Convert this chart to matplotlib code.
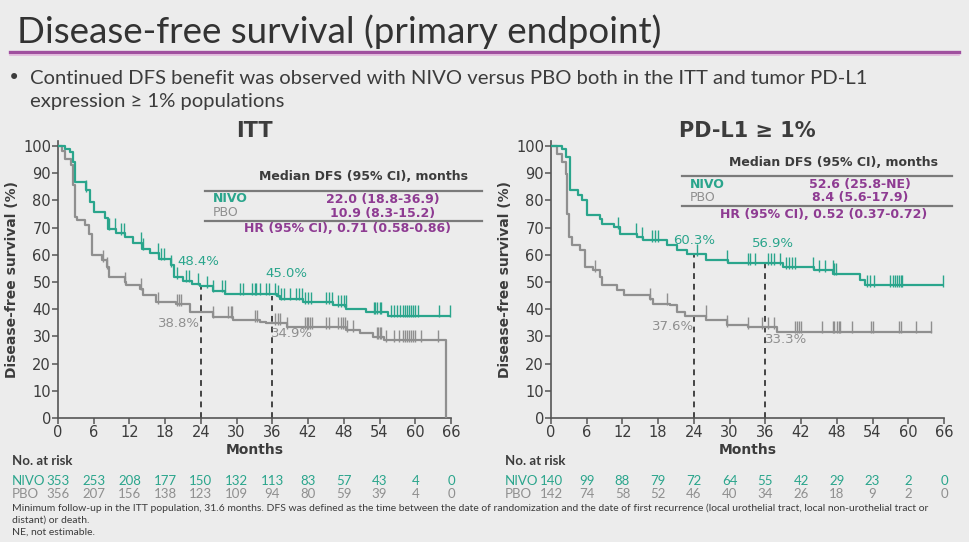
import matplotlib.pyplot as plt
import matplotlib.transforms as mtrans
from matplotlib.lines import Line2D
import numpy as np

# colores
TEAL = "#2aa58c"
GRIS = "#8f8f8f"
MORADO = "#8e3b92"
OSCURO = "#3c3c3c"
FONDO = "#ececec"
NARROW = ["Lato", "DejaVu Sans"]

# ---- datos ITT ----
itt_nivo_t = [0, 1.2, 2.0, 2.6, 2.9, 4.7, 5.4, 6.0, 7.9, 8.4, 9.8, 11.3, 12.6, 14.1, 15.5, 16.9, 18.9, 19.4,
              21.0, 22.5, 23.8, 26.0, 28.1, 36.7, 37.2, 41.1, 46.1, 48.4, 51.7, 55.4]
itt_nivo_s = [100, 99, 97.8, 94.1, 86.8, 83.7, 79.4, 75.7, 73.6, 69.6, 68.0, 66.5, 64.5, 62.3, 60.5, 58.6, 56.1,
              51.8, 50.5, 49.4, 48.4, 46.8, 45.7, 45.0, 43.9, 42.7, 41.5, 40.2, 39.0, 37.6]
itt_nivo_fin = 65.8
itt_nivo_cens = [4.7, 8.6, 9.5, 10.5, 11.0, 13.9, 14.3, 16.8, 17.3, 17.8, 19.0, 20.0, 21.5, 22.0, 23.5, 25.0, 26.0,
                 27.5, 28.0, 30.6, 31.0, 32.5, 33.0, 33.3, 34.0, 35.0, 35.5, 36.5, 37.0, 37.5, 38.0, 39.0, 40.0,
                 40.5, 41.0, 41.5, 42.0, 42.5, 45.0, 45.5, 46.0, 47.0, 47.5, 48.0, 48.3, 53.0, 53.3, 53.6, 54.0,
                 54.3, 56.0, 56.5, 57.0, 57.5, 58.0, 58.3, 58.6, 59.0, 59.3, 59.6, 60.0, 60.5, 64.0, 65.8]

itt_pbo_t = [0, 0.6, 1.2, 2.1, 2.6, 2.8, 3.2, 4.6, 5.2, 5.7, 7.4, 8.2, 8.5, 11.3, 11.5, 13.7, 14.3, 16.5, 19.9,
             22.1, 23.5, 26.0, 29.4, 33.9, 35.0, 38.4, 48.4, 50.7, 52.9, 54.8, 65.2]
itt_pbo_s = [100, 98, 95.3, 92.9, 85.5, 73.9, 72.7, 70.8, 67.8, 59.8, 58.0, 55.5, 51.8, 50.0, 48.8, 47.6, 45.1,
             42.7, 41.8, 39.0, 38.8, 37.2, 36.0, 35.4, 34.9, 33.5, 32.3, 31.1, 29.6, 28.7, 0]
itt_pbo_fin = 65.2
itt_pbo_cens = [7.5, 8.3, 11.3, 14.0, 16.8, 20.0, 20.3, 20.6, 26.0, 28.5, 29.0, 29.3, 33.0, 33.4, 36.5, 37.0,
                37.3, 38.5, 41.5, 41.8, 42.0, 42.3, 42.6, 45.0, 45.5, 47.0, 47.5, 47.8, 48.2, 48.6, 49.5, 53.5,
                53.8, 54.0, 54.3, 55.0, 56.5, 57.3, 58.0, 58.3, 58.6, 59.0, 59.3, 59.6, 60.0, 61.0, 63.8]

# ---- datos PD-L1 >= 1% ----
pd_nivo_t = [0, 1.8, 2.6, 3.2, 4.6, 5.2, 6.0, 8.2, 8.5, 10.5, 11.6, 14.4, 15.5, 19.4, 21.1, 22.8, 26.1, 29.8,
             39.0, 44.1, 47.4, 51.9, 52.7]
pd_nivo_s = [100, 99, 96, 83.7, 81.9, 80, 74.5, 73.3, 71.4, 70.2, 67.8, 66.5, 65.3, 63.5, 61.6, 60.3, 58.0,
             56.9, 55.5, 54.3, 53.1, 50.6, 48.8]
pd_nivo_fin = 65.8
pd_nivo_cens = [11.2, 14.2, 15.2, 17.0, 17.5, 18.0, 24.5, 29.6, 33.0, 33.5, 34.3, 36.5, 37.0, 37.5, 38.5, 39.5,
                40.0, 40.5, 41.0, 44.0, 45.0, 46.0, 47.3, 47.6, 47.9, 53.0, 53.5, 54.3, 57.0, 57.5, 57.8, 58.1,
                58.4, 58.7, 59.0, 65.8]

pd_pbo_t = [0, 1.0, 1.8, 2.5, 2.7, 3.0, 3.5, 4.9, 5.7, 7.1, 8.2, 8.5, 11.0, 12.2, 16.6, 17.2, 20.0, 21.1, 22.5,
            26.1, 29.5, 33.1, 37.9]
pd_pbo_s = [100, 97.2, 94.1, 89.8, 75.1, 66.5, 63.5, 61.6, 55.5, 54.3, 51.8, 48.8, 47.0, 45.1, 43.9, 42.1, 41.5,
            39.0, 37.6, 36.0, 34.1, 33.3, 31.7]
pd_pbo_fin = 63.9
pd_pbo_cens = [7.4, 16.6, 19.5, 26.0, 29.5, 33.1, 35.5, 36.5, 37.5, 41.0, 41.3, 41.6, 42.0, 45.5, 47.3, 47.6,
               48.0, 48.3, 48.6, 50.5, 53.8, 54.0, 58.5, 58.8, 61.3, 63.9]

meses = list(range(0, 67, 6))
itt_riesgo_nivo = [353, 253, 208, 177, 150, 132, 113, 83, 57, 43, 4, 0]
itt_riesgo_pbo = [356, 207, 156, 138, 123, 109, 94, 80, 59, 39, 4, 0]
pd_riesgo_nivo = [140, 99, 88, 79, 72, 64, 55, 42, 29, 23, 2, 0]
pd_riesgo_pbo = [142, 74, 58, 52, 46, 40, 34, 26, 18, 9, 2, 0]

itt_tabla = ["22.0 (18.8-36.9)", "10.9 (8.3-15.2)", "HR (95% CI), 0.71 (0.58-0.86)"]
pd_tabla = ["52.6 (25.8-NE)", "8.4 (5.6-17.9)", "HR (95% CI), 0.52 (0.37-0.72)"]

# (mes, nivo %, pbo %)
itt_hitos = [(24, 48.4, 38.8), (36, 45.0, 34.9)]
pd_hitos = [(24, 60.3, 37.6), (36, 56.9, 33.3)]
# posicion de las etiquetas (mes, %) : nivo24, nivo36, pbo24, pbo36
itt_etq = [(23.5, 57.4), (38.3, 53.3), (20.3, 34.9), (39.3, 30.9)]
pd_etq = [(24.0, 65.4), (37.3, 64.3), (20.5, 33.8), (39.5, 28.7)]


def valor_en(t, s, x):
    i = np.searchsorted(t, x, side="right") - 1
    return np.array(s)[i]


def curva(ax, t, s, fin, cens, color):
    tt = list(t) + [fin]
    ss = list(s) + [s[-1]]
    ax.step(tt, ss, where="post", color=color, lw=1.6, zorder=3)
    ax.plot(cens, valor_en(t, s, cens) + 1.6, ls="none", marker="|", ms=9, mew=1.0, color=color, zorder=3)


fig = plt.figure(figsize=(9.69, 5.42), dpi=100, facecolor=FONDO)
fy = lambda py: 1 - py / 542

# titulo y linea morada
fig.text(0.018, fy(43), "Disease-free survival (primary endpoint)", fontsize=26.5, color="#333333",
         family=NARROW, va="baseline")
fig.add_artist(Line2D([0.01, 0.99], [fy(52)] * 2, color="#a0509f", lw=2.4))
fig.add_artist(Line2D([0.01, 0.99], [fy(54.5)] * 2, color="#e2b6dc", lw=1.2))
fig.text(0.008, fy(78), "\u2022", fontsize=15, color=OSCURO, va="center")
fig.text(0.031, fy(78), "Continued DFS benefit was observed with NIVO versus PBO both in the ITT and tumor PD-L1",
         fontsize=14.6, color=OSCURO, family=NARROW, va="center")
fig.text(0.031, fy(101), "expression \u2265 1% populations", fontsize=14.6, color=OSCURO, family=NARROW,
         va="center")

paneles = [
    (58, "ITT", itt_nivo_t, itt_nivo_s, itt_nivo_fin, itt_nivo_cens, itt_pbo_t, itt_pbo_s, itt_pbo_fin,
     itt_pbo_cens, itt_riesgo_nivo, itt_riesgo_pbo, itt_tabla, itt_hitos, itt_etq, 177, (205, 482)),
    (551, "PD-L1 \u2265 1%", pd_nivo_t, pd_nivo_s, pd_nivo_fin, pd_nivo_cens, pd_pbo_t, pd_pbo_s, pd_pbo_fin,
     pd_pbo_cens, pd_riesgo_nivo, pd_riesgo_pbo, pd_tabla, pd_hitos, pd_etq, 162, (682, 952)),
]

for (x0, titulo, nt, ns, nfin, ncens, pt, ps, pfin, pcens, rn, rp, tabla, hitos, etq, ytab, xlin) in paneles:
    ax = fig.add_axes([x0 / 969, fy(418), 393 / 969, (418 - 140.6) / 542], facecolor=FONDO)
    curva(ax, pt, ps, pfin, pcens, GRIS)
    curva(ax, nt, ns, nfin, ncens, TEAL)

    for (m, vn, vp) in hitos:
        ax.plot([m, m], [0, vn], ls=(0, (3, 2.5)), color="#444444", lw=1.4, zorder=2)

    ax.set_xlim(0, 66)
    ax.set_ylim(0, 102)
    ax.set_xticks(meses)
    ax.set_yticks(range(0, 101, 10))
    for sp in ["top", "right"]:
        ax.spines[sp].set_visible(False)
    for sp in ["left", "bottom"]:
        ax.spines[sp].set_color("#555555")
        ax.spines[sp].set_linewidth(1.2)
    ax.tick_params(length=4, width=1.1, color="#555555", labelsize=10.5, labelcolor=OSCURO, pad=1)
    ax.set_xlabel("Months", fontsize=10, fontweight="bold", color=OSCURO, labelpad=2)
    ax.set_ylabel("Disease-free survival (%)", fontsize=10, fontweight="bold", color=OSCURO, labelpad=3)
    ax.set_title(titulo, fontsize=15, fontweight="bold", color=OSCURO, pad=1)

    # porcentajes a 24 y 36 meses
    textos = [hitos[0][1], hitos[1][1], hitos[0][2], hitos[1][2]]
    colores = [TEAL, TEAL, GRIS, GRIS]
    for (ex, ey), v, c in zip(etq, textos, colores):
        ax.text(ex, ey, "%.1f%%" % v, color=c, fontsize=9.5, ha="center", va="center")

    # tabla de medianas
    fig.text(xlin[1] / 969 - 0.014, fy(ytab), "Median DFS (95% CI), months", fontsize=9, fontweight="bold",
             color=OSCURO, ha="right", va="center")
    fig.add_artist(Line2D([xlin[0] / 969, xlin[1] / 969], [fy(ytab + 14)] * 2, color="#7a7a7a", lw=1.6))
    fig.add_artist(Line2D([xlin[0] / 969, xlin[1] / 969], [fy(ytab + 44)] * 2, color="#7a7a7a", lw=1.6))
    cx = (xlin[0] + 178) / 969
    fig.text((xlin[0] + 8) / 969, fy(ytab + 22), "NIVO", fontsize=9, fontweight="bold", color=TEAL, va="center")
    fig.text((xlin[0] + 8) / 969, fy(ytab + 36), "PBO", fontsize=9, color=GRIS, va="center")
    fig.text(cx, fy(ytab + 22), tabla[0], fontsize=9, fontweight="bold", color=MORADO, ha="center", va="center")
    fig.text(cx, fy(ytab + 36), tabla[1], fontsize=9, fontweight="bold", color=MORADO, ha="center", va="center")
    fig.text((xlin[0] + 142) / 969, fy(ytab + 52), tabla[2], fontsize=9, fontweight="bold", color=MORADO,
             ha="center", va="center")

    # numero en riesgo
    tr = mtrans.blended_transform_factory(ax.transData, fig.transFigure)
    fig.text((x0 - 46) / 969, fy(461), "No. at risk", fontsize=9.5, fontweight="bold", color=OSCURO,
             family=NARROW, va="center")
    fig.text((x0 - 46) / 969, fy(481), "NIVO", fontsize=9.5, color=TEAL, family=NARROW, va="center")
    fig.text((x0 - 46) / 969, fy(494), "PBO", fontsize=9.5, color=GRIS, family=NARROW, va="center")
    for m, a, b in zip(meses, rn, rp):
        ax.text(m, fy(481), str(a), transform=tr, fontsize=9.5, color=TEAL, family=NARROW, ha="center",
                va="center", clip_on=False)
        ax.text(m, fy(494), str(b), transform=tr, fontsize=9.5, color=GRIS, family=NARROW, ha="center",
                va="center", clip_on=False)

notas = ("Minimum follow-up in the ITT population, 31.6 months. DFS was defined as the time between the date of "
         "randomization and the date of first recurrence (local urothelial tract, local non-urothelial tract or\n"
         "distant) or death.\nNE, not estimable.")
fig.text(0.012, fy(503), notas, fontsize=7.45, color=OSCURO, family=NARROW, va="top", linespacing=1.45)

fig.savefig("out.png", dpi=100, facecolor=FONDO)
